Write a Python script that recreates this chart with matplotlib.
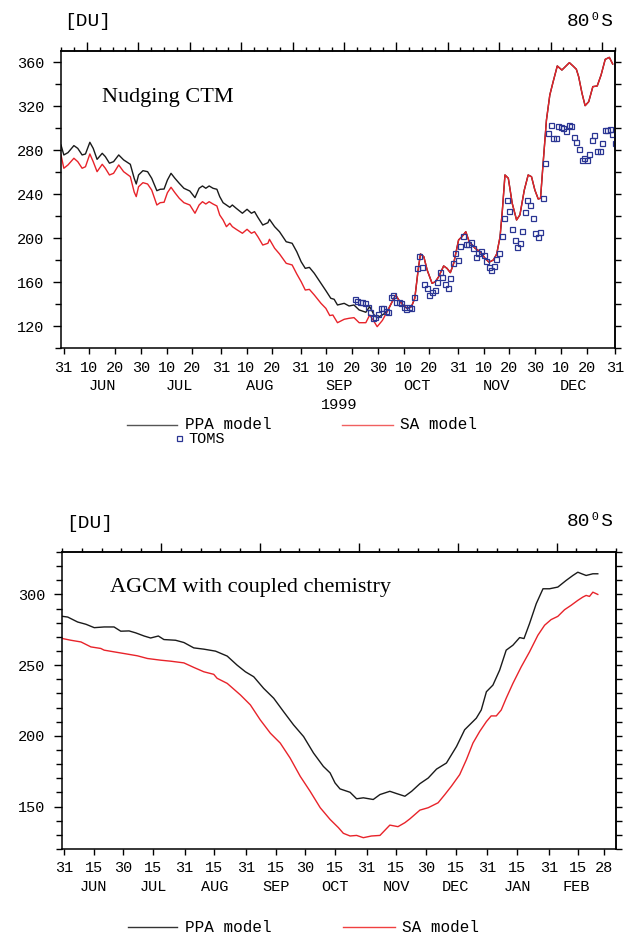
import matplotlib
matplotlib.use('Agg')
import matplotlib.pyplot as plt
from matplotlib.lines import Line2D
import numpy as np

# ---------------- data (x = day of year 1999, >365 runs into 2000) ----------------
# Nudging CTM, PPA model (black) - only the part where it differs from SA
ctm_ppa_day = [150.0, 151.1, 152.7, 155.0, 156.5, 158.2, 159.5, 161.2, 162.5, 164.0,
               166.0, 167.2, 168.8, 170.4, 172.4, 174.3, 176.9, 178.4, 179.2, 180.1,
               181.8, 183.6, 185.2, 187.2, 188.5, 190.0, 191.3, 192.7, 194.2, 195.9,
               197.7, 200.0, 202.0, 203.6, 204.9, 206.2, 207.5, 209.0, 210.5, 211.6,
               212.9, 214.2, 215.5, 216.5, 218.0, 220.4, 222.2, 223.9, 225.1, 226.4,
               228.3, 230.3, 230.9, 232.9, 234.8, 237.4, 239.7, 241.5, 243.2, 244.8,
               246.4, 248.3, 250.9, 252.8, 254.7, 256.0, 257.3, 259.9, 261.8, 263.7,
               265.7, 268.3, 269.8, 271.5, 272.7, 274.7]
ctm_ppa = [284.5, 275.5, 277.6, 284.0, 281.5, 275.5, 276.4, 287.0, 281.5, 271.5,
           277.0, 274.0, 268.0, 269.4, 275.5, 271.0, 267.0, 254.3, 249.1, 257.3,
           261.2, 260.3, 254.3, 243.0, 244.3, 244.5, 252.7, 258.8, 254.3, 249.7,
           245.2, 242.7, 236.7, 245.2, 247.3, 245.2, 247.3, 245.2, 244.3, 237.6,
           232.1, 230.0, 227.9, 230.0, 227.0, 222.5, 226.1, 222.5, 224.0, 218.8,
           211.8, 213.9, 217.0, 210.3, 205.7, 196.6, 195.2, 187.5, 178.4, 172.4,
           173.3, 167.9, 158.8, 152.1, 145.2, 144.3, 139.1, 140.6, 138.2, 139.1,
           134.6, 132.5, 137.6, 130.0, 127.6, 130.0]

# Nudging CTM, SA model (red)
ctm_sa_day = [150.0, 151.1, 152.7, 155.0, 156.5, 158.2, 159.5, 161.2, 162.5, 164.0,
              166.0, 167.2, 168.8, 170.4, 172.4, 174.3, 176.9, 178.4, 179.2, 180.1,
              181.8, 183.6, 185.2, 187.2, 188.5, 190.0, 191.3, 192.7, 194.2, 195.9,
              197.7, 200.0, 202.0, 203.6, 204.9, 206.2, 207.5, 209.0, 210.5, 211.6,
              212.9, 214.2, 215.5, 216.5, 218.0, 220.4, 222.2, 223.9, 225.1, 226.4,
              228.3, 230.3, 230.9, 232.9, 234.8, 237.4, 239.7, 241.5, 243.2, 244.8,
              246.4, 248.3, 250.9, 252.8, 254.3, 255.5, 257.3, 259.9, 261.8, 263.7,
              265.7, 268.3, 269.8, 271.5, 272.7, 274.7, 276.6, 278.5, 279.9, 281.1,
              282.7, 284.3, 286.0, 287.3, 288.6, 289.5, 290.8, 292.1, 294.0, 295.3,
              296.6, 298.5, 299.8, 301.1, 302.4, 304.3, 305.6, 307.1, 308.4, 310.7,
              312.7, 314.6, 316.1, 317.8, 319.1, 320.4, 321.3, 322.3, 323.6, 325.1,
              326.8, 328.1, 329.8, 331.3, 332.6, 333.9, 335.2, 336.1, 337.1, 338.4,
              339.7, 341.0, 342.6, 344.4, 345.7, 347.3, 348.7, 350.0, 350.9, 352.2,
              353.4, 354.8, 356.4, 358.1, 359.6, 361.2, 362.8, 364.1]
ctm_sa = [275.5, 263.4, 266.4, 272.5, 269.4, 263.4, 264.8, 276.4, 269.4, 260.3,
          267.0, 263.4, 257.3, 258.8, 266.4, 260.3, 255.8, 241.8, 237.6, 246.6,
          250.3, 249.1, 243.6, 230.0, 232.1, 232.5, 241.2, 246.1, 241.2, 236.1,
          232.1, 230.0, 222.5, 230.0, 233.0, 230.9, 233.0, 230.9, 229.1, 220.9,
          216.4, 210.3, 213.4, 210.3, 207.9, 204.3, 207.9, 204.3, 205.7, 201.2,
          193.6, 195.2, 198.8, 190.7, 185.5, 177.0, 175.5, 167.3, 160.3, 152.7,
          153.3, 148.2, 140.6, 136.0, 129.5, 130.0, 123.0, 126.1, 127.0, 127.6,
          123.0, 123.0, 130.0, 124.0, 119.4, 125.0, 133.1, 142.0, 148.2, 143.6,
          139.1, 136.0, 137.6, 145.2, 170.9, 185.5, 183.0, 170.9, 158.8, 160.3,
          164.9, 174.6, 172.4, 168.5, 177.0, 198.2, 201.2, 205.7, 196.7, 190.7,
          187.5, 181.5, 178.0, 180.0, 185.5, 201.2, 225.5, 257.3, 254.3, 231.6,
          216.4, 221.0, 243.6, 257.3, 255.7, 243.6, 235.5, 236.1, 267.9, 307.3,
          330.0, 342.1, 356.4, 352.7, 355.7, 359.4, 356.4, 353.4, 346.6, 331.5,
          320.3, 323.9, 337.6, 338.2, 348.2, 362.4, 364.2, 358.2]

# TOMS daily observations, 21 Sep - 31 Dec 1999
toms_day = list(range(264, 366))
toms = [144.3, 143.0, 142.1, 142.1, 141.2, 137.0, 133.0, 127.0, 128.5, 130.9,
        136.1, 136.1, 134.0, 133.0, 146.7, 148.2, 142.1, 142.1, 140.6, 137.6,
        135.2, 137.0, 136.1, 146.1, 172.4, 183.6, 173.9, 158.2, 154.9, 148.2,
        151.2, 152.7, 160.3, 169.4, 164.9, 158.2, 154.2, 163.6, 177.0, 186.7,
        180.0, 192.7, 201.8, 194.3, 194.3, 196.7, 190.6, 182.7, 186.1, 188.2,
        184.6, 178.8, 173.3, 170.9, 174.3, 180.6, 186.1, 201.8, 217.9, 234.2,
        224.6, 207.9, 198.2, 191.5, 195.2, 206.4, 223.7, 234.2, 229.7, 218.5,
        204.9, 200.6, 205.8, 236.7, 267.9, 295.2, 302.4, 290.6, 290.6, 301.5,
        301.2, 299.7, 297.3, 303.0, 301.5, 291.5, 287.0, 281.2, 270.9, 272.4,
        271.2, 276.7, 289.1, 293.9, 279.1, 279.1, 286.4, 297.9, 297.9, 298.8,
        294.5, 286.4]

# AGCM with coupled chemistry
agcm_ppa_day = [150.3, 152.9, 157.9, 162.1, 166.3, 171.3, 176.3, 179.7, 183.9, 187.3,
                191.5, 194.8, 198.7, 201.5, 207.4, 211.6, 216.6, 221.7, 227.6, 233.5,
                238.5, 242.7, 246.9, 251.9, 257.0, 262.0, 267.0, 272.1, 277.1, 282.1,
                285.5, 288.0, 290.5, 295.6, 298.9, 302.3, 307.3, 310.7, 315.7, 319.1,
                323.3, 326.7, 330.9, 335.1, 339.3, 344.3, 349.4, 353.5, 359.4, 361.9,
                364.5, 367.8, 371.2, 374.5, 377.9, 381.3, 383.5, 386.3, 389.7, 393.1,
                396.4, 400.6, 404.8, 408.2, 410.7, 414.9, 418.3, 420.8]
agcm_ppa = [284.5, 284.0, 280.5, 278.9, 276.5, 277.0, 277.0, 274.0, 274.2, 272.8,
            270.6, 269.2, 270.6, 268.1, 267.6, 266.0, 262.2, 261.3, 259.9, 256.4,
            250.0, 245.3, 241.8, 233.6, 226.6, 217.1, 207.8, 199.5, 187.9, 178.4,
            173.8, 166.7, 162.5, 160.1, 155.5, 156.2, 155.0, 158.5, 160.8, 159.2,
            157.3, 160.8, 166.2, 170.2, 176.5, 180.8, 192.5, 204.3, 212.5, 218.3,
            231.2, 235.9, 246.5, 260.6, 264.1, 269.5, 268.8, 279.4, 293.5, 304.0,
            304.0, 305.2, 309.9, 313.4, 315.7, 313.4, 314.6, 314.6]
agcm_sa_day = [150.3, 154.5, 159.6, 164.6, 169.6, 171.3, 176.3, 183.1, 188.1, 193.2,
               199.9, 204.9, 211.6, 216.6, 221.7, 226.7, 228.4, 233.5, 240.2, 245.2,
               250.2, 255.3, 260.3, 265.3, 270.4, 275.4, 280.5, 285.5, 289.7, 292.2,
               295.6, 298.9, 302.3, 306.4, 310.7, 315.7, 319.8, 323.3, 325.9, 330.9,
               335.1, 340.1, 343.5, 346.8, 351.0, 354.4, 357.7, 361.1, 364.5, 366.9,
               369.5, 372.0, 374.5, 377.9, 382.1, 386.3, 390.5, 393.9, 397.2, 400.6,
               404.0, 407.3, 410.7, 413.2, 414.9, 416.6, 418.3, 420.8]
agcm_sa = [268.8, 267.6, 266.4, 262.9, 261.8, 260.6, 259.4, 257.8, 256.6, 254.7,
           253.5, 252.8, 251.6, 248.4, 245.3, 243.5, 240.7, 237.1, 228.9, 221.9,
           211.3, 201.9, 194.9, 184.3, 171.4, 160.8, 149.2, 140.9, 135.1, 131.1,
           129.2, 129.6, 128.0, 129.2, 129.6, 136.9, 135.8, 138.6, 141.4, 147.5,
           149.2, 152.7, 158.5, 164.4, 172.6, 183.2, 194.9, 203.1, 210.1, 214.1,
           214.1, 218.3, 226.6, 237.1, 248.8, 259.4, 271.1, 278.2, 282.2, 284.5,
           289.2, 292.3, 295.8, 298.1, 299.3, 298.6, 301.6, 300.0]

# axis ticks
top_xticks = [151, 161, 171, 181, 191, 201, 212, 222, 232, 243, 253, 263, 273,
              283, 293, 304, 314, 324, 334, 344, 354, 365]
top_xlabels = ['31', '10', '20', '30', '10', '20', '31', '10', '20', '31', '10',
               '20', '30', '10', '20', '31', '10', '20', '30', '10', '20', '31']
top_months = ['JUN', 'JUL', 'AUG', 'SEP', 'OCT', 'NOV', 'DEC']
top_month_day = [166, 196, 227, 258, 288, 319, 349]

bot_xticks = [151, 166, 181, 196, 212, 227, 243, 258, 273, 288, 304, 319, 334,
              349, 365, 380, 396, 411, 424]
bot_xlabels = ['31', '15', '30', '15', '31', '15', '31', '15', '30', '15', '31',
               '15', '30', '15', '31', '15', '31', '15', '28']
bot_months = ['JUN', 'JUL', 'AUG', 'SEP', 'OCT', 'NOV', 'DEC', 'JAN', 'FEB']
bot_month_day = [166, 196, 227, 258, 288, 319, 349, 380, 410]

RED = '#e8232a'
BLACK = '#1a1a1a'
BLUE = '#2a3593'
MONO = ['Liberation Mono', 'DejaVu Sans Mono']
SERIF = ['Liberation Serif', 'DejaVu Serif']

W, H = 624, 936


def fx(px):
    return px / W


def fy(py):
    return 1 - py / H


def style(ax, xlim, ylim, ymajor, ystep, xticks, xlabels, top_major, top_minor):
    ax.set_xlim(xlim)
    ax.set_ylim(ylim)
    for s in ax.spines.values():
        s.set_linewidth(1.1)
    ax.set_yticks(ymajor)
    ax.set_yticklabels([str(v) for v in ymajor], family=MONO, fontsize=11)
    ax.set_yticks(np.arange(ylim[0], ylim[1] + 1, ystep), minor=True)
    ax.set_xticks(xticks)
    ax.set_xticklabels(xlabels, family=MONO, fontsize=11)
    ax.tick_params(axis='y', which='major', direction='out', length=6, width=1, pad=6)
    ax.tick_params(axis='y', which='minor', direction='out', length=4.5, width=1)
    ax.tick_params(axis='x', which='major', direction='out', length=4, width=1, pad=5)
    ax.tick_params(axis='x', which='minor', length=0)
    sy = ax.secondary_yaxis('right')
    sy.set_yticks(np.arange(ylim[0], ylim[1] + 1, ystep))
    sy.set_yticklabels([])
    sy.tick_params(direction='out', length=4, width=1)
    sy.spines['right'].set_linewidth(1.1)
    sx = ax.secondary_xaxis('top')
    sx.set_xticks(top_major)
    sx.set_xticklabels([])
    sx.set_xticks(top_minor, minor=True)
    sx.tick_params(which='major', direction='out', length=6.5, width=1)
    sx.tick_params(which='minor', direction='out', length=3.2, width=1)
    sx.spines['top'].set_linewidth(1.1)


fig = plt.figure(figsize=(6.24, 9.36), dpi=100)

# ---------------- top panel: Nudging CTM ----------------
ax1 = fig.add_axes([fx(61), fy(348), fx(615) - fx(61), (348 - 51) / H])
cut = np.array(ctm_sa_day) > ctm_ppa_day[-1]
ppa_x = np.concatenate([ctm_ppa_day, np.array(ctm_sa_day)[cut]])
ppa_y = np.concatenate([ctm_ppa, np.array(ctm_sa)[cut]])
ax1.plot(ppa_x, ppa_y, color=BLACK, lw=1.0)
ax1.plot(ctm_sa_day, ctm_sa, color=RED, lw=1.0)
ax1.plot(toms_day, toms, ls='none', marker='s', ms=3.6, mfc='none', mec=BLUE, mew=0.9)
style(ax1, (150, 365), (100, 370), [120, 160, 200, 240, 280, 320, 360], 20,
      top_xticks, top_xlabels, np.arange(160, 366, 20), np.arange(150, 366, 5))
for d, m in zip(top_month_day, top_months):
    ax1.text(d, -0.128, m, transform=ax1.get_xaxis_transform(), ha='center', va='center',
             family=MONO, fontsize=11)
ax1.text(258, -0.192, '1999', transform=ax1.get_xaxis_transform(), ha='center',
         va='center', family=MONO, fontsize=11)
ax1.text(0.074, 0.827, 'Nudging CTM', transform=ax1.transAxes, family=SERIF,
         fontsize=16, va='baseline')

fig.text(fx(64), fy(22), '[DU]', family=MONO, fontsize=14, va='center')
fig.text(fx(614), fy(21), '80\u2070S', family=MONO, fontsize=14, va='center', ha='right')

# legend, top
fig.add_artist(Line2D([fx(127), fx(177)], [fy(425), fy(425)], color='#555555', lw=1.0))
fig.text(fx(185), fy(425), 'PPA model', family=MONO, fontsize=11.5, va='center')
fig.add_artist(Line2D([fx(342), fx(393)], [fy(425), fy(425)], color='#f06060', lw=1.0))
fig.text(fx(400), fy(425), 'SA model', family=MONO, fontsize=11.5, va='center')
fig.add_artist(Line2D([fx(179)], [fy(438)], ls='none', marker='s', ms=3.6, mfc='none',
                      mec=BLUE, mew=0.9))
fig.text(fx(188), fy(439), 'TOMS', family=MONO, fontsize=11, va='center')

# ---------------- bottom panel: AGCM ----------------
ax2 = fig.add_axes([fx(62), fy(849), fx(616) - fx(62), (849 - 552) / H])
ax2.plot(agcm_ppa_day, agcm_ppa, color=BLACK, lw=1.0)
ax2.plot(agcm_sa_day, agcm_sa, color=RED, lw=1.0)
style(ax2, (150, 430), (120, 330), [150, 200, 250, 300], 10,
      bot_xticks, bot_xlabels, np.arange(200, 431, 50), np.arange(150, 431, 10))
for d, m in zip(bot_month_day, bot_months):
    ax2.text(d, -0.128, m, transform=ax2.get_xaxis_transform(), ha='center', va='center',
             family=MONO, fontsize=11)
ax2.text(0.087, 0.865, 'AGCM with coupled chemistry', transform=ax2.transAxes,
         family=SERIF, fontsize=16, va='baseline')

fig.text(fx(66), fy(524), '[DU]', family=MONO, fontsize=14, va='center')
fig.text(fx(614), fy(522), '80\u2070S', family=MONO, fontsize=14, va='center', ha='right')

# legend, bottom
fig.add_artist(Line2D([fx(128), fx(177)], [fy(927), fy(927)], color='#333333', lw=1.0))
fig.text(fx(185), fy(927), 'PPA model', family=MONO, fontsize=11.5, va='center')
fig.add_artist(Line2D([fx(343), fx(395)], [fy(927), fy(927)], color='#f04040', lw=1.0))
fig.text(fx(402), fy(927), 'SA model', family=MONO, fontsize=11.5, va='center')

fig.savefig('out.png', dpi=100)
